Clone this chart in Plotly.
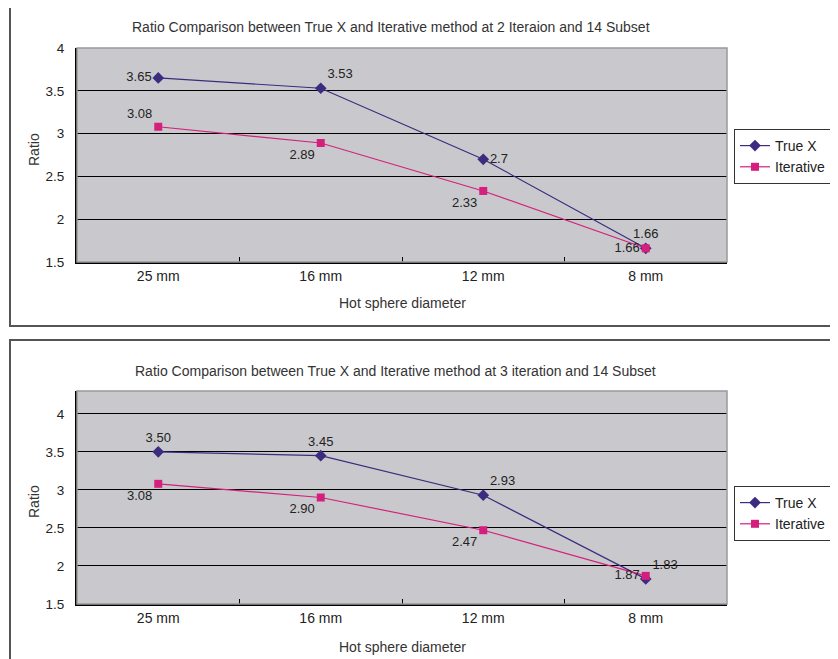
import plotly.graph_objects as go

categories = ["25 mm", "16 mm", "12 mm", "8 mm"]

# Chart 1: 2 iterations, 14 subsets
top_truex = [3.65, 3.53, 2.7, 1.66]
top_truex_labels = ["3.65", "3.53", "2.7", "1.66"]
top_iter = [3.08, 2.89, 2.33, 1.66]
top_iter_labels = ["3.08", "2.89", "2.33", "1.66"]

# Chart 2: 3 iterations, 14 subsets
bot_truex = [3.50, 3.45, 2.93, 1.83]
bot_truex_labels = ["3.50", "3.45", "2.93", "1.83"]
bot_iter = [3.08, 2.90, 2.47, 1.87]
bot_iter_labels = ["3.08", "2.90", "2.47", "1.87"]

top_title = "Ratio Comparison between True X and Iterative method at 2 Iteraion and 14 Subset"
bot_title = "Ratio Comparison between True X and Iterative method at 3 iteration and 14 Subset"

W, H = 838, 659
OFF = 8  # page body margin
C_TRUE = "#3C2B7E"
C_ITER = "#D4207C"
FONT = "Liberation Sans"

def px(x):
    return (x - OFF) / W

def py(y):
    return 1 - (y - OFF) / H

fig = go.Figure()

def add_series(y, labels, pos, name, color, symbol, msize, xa, ya, legend):
    fig.add_trace(go.Scatter(
        x=categories, y=y, name=name, mode="lines+markers+text",
        text=labels, textposition=pos,
        textfont=dict(family=FONT, size=13, color="#222222"),
        line=dict(color=color, width=1.2),
        marker=dict(symbol=symbol, size=msize, color=color),
        xaxis=xa, yaxis=ya, legend=legend, showlegend=True,
        cliponaxis=False,
    ))

add_series(top_truex, top_truex_labels,
           ["middle left", "top right", "middle right", "top center"],
           "True X", C_TRUE, "diamond", 9, "x", "y", "legend")
add_series(top_iter, top_iter_labels,
           ["top left", "bottom left", "bottom left", "middle left"],
           "Iterative", C_ITER, "square", 8, "x", "y", "legend")
add_series(bot_truex, bot_truex_labels,
           ["top center", "top center", "top right", "top right"],
           "True X", C_TRUE, "diamond", 9, "x2", "y2", "legend2")
add_series(bot_iter, bot_iter_labels,
           ["bottom left", "bottom left", "bottom left", "middle left"],
           "Iterative", C_ITER, "square", 8, "x2", "y2", "legend2")

xcommon = dict(type="category", range=[-0.5, 3.5], showgrid=False,
               showline=True, linecolor="black", linewidth=2,
               ticks="inside", ticklen=5, tickcolor="black", tickson="boundaries",
               tickfont=dict(family=FONT, size=14, color="#222222"),
               mirror=False, zeroline=False)
ycommon = dict(showgrid=True, gridcolor="black", gridwidth=1,
               showline=True, linecolor="black", linewidth=2,
               ticks="", ticklabelstandoff=8,
               tickfont=dict(family=FONT, size=13.5, color="#222222"),
               dtick=0.5, zeroline=False)

legcommon = dict(bgcolor="white", bordercolor="#333333", borderwidth=1,
                 font=dict(family=FONT, size=14, color="#222222"),
                 xanchor="left", yanchor="top", tracegroupgap=0)

TF = dict(family=FONT, size=14, color="#333333")

fig.update_layout(
    width=W, height=H,
    margin=dict(l=0, r=0, t=0, b=0, autoexpand=False),
    paper_bgcolor="white",
    plot_bgcolor="#C9C9CD",
    xaxis=dict(domain=[px(77), px(727)], anchor="y", **xcommon),
    yaxis=dict(domain=[py(262), py(48)], anchor="x", range=[1.5, 4.0], **ycommon),
    xaxis2=dict(domain=[px(77), px(727)], anchor="y2", **xcommon),
    yaxis2=dict(domain=[py(604), py(391)], anchor="x2", range=[1.5, 4.3], **ycommon),
    legend=dict(x=px(734), y=py(129), **legcommon),
    legend2=dict(x=px(734), y=py(486), **legcommon),
    shapes=[
        dict(type="rect", xref="paper", yref="paper", x0=px(10), x1=px(880),
             y0=py(326), y1=py(4), line=dict(color="#555555", width=2), layer="below"),
        dict(type="rect", xref="paper", yref="paper", x0=px(10), x1=px(880),
             y0=py(700), y1=py(340), line=dict(color="#555555", width=2), layer="below"),
        dict(type="rect", xref="paper", yref="paper", x0=px(77), x1=px(727),
             y0=py(262), y1=py(48), line=dict(color="#999999", width=1.5)),
        dict(type="rect", xref="paper", yref="paper", x0=px(77), x1=px(727),
             y0=py(604), y1=py(391), line=dict(color="#999999", width=1.5)),
    ],
    annotations=[
        dict(text=top_title, x=px(391), y=py(27), xref="paper", yref="paper",
             xanchor="center", yanchor="middle", showarrow=False, font=TF),
        dict(text=bot_title, x=px(395), y=py(371), xref="paper", yref="paper",
             xanchor="center", yanchor="middle", showarrow=False, font=TF),
        dict(text="Hot sphere diameter", x=px(402), y=py(303), xref="paper", yref="paper",
             xanchor="center", yanchor="middle", showarrow=False, font=TF),
        dict(text="Hot sphere diameter", x=px(402), y=py(647), xref="paper", yref="paper",
             xanchor="center", yanchor="middle", showarrow=False, font=TF),
        dict(text="Ratio", x=px(34), y=py(150), xref="paper", yref="paper", textangle=-90,
             xanchor="center", yanchor="middle", showarrow=False, font=TF),
        dict(text="Ratio", x=px(34), y=py(502), xref="paper", yref="paper", textangle=-90,
             xanchor="center", yanchor="middle", showarrow=False, font=TF),
    ],
)

fig.write_html("out.html")
